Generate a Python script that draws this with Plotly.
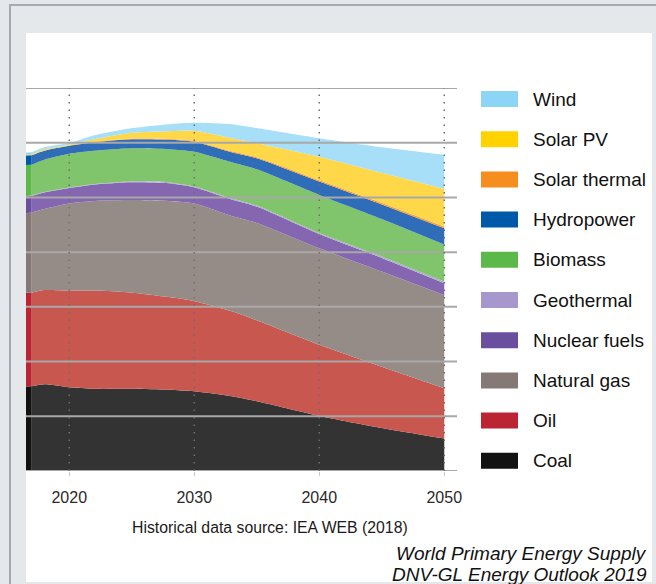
import plotly.graph_objects as go

# ---------------- data (EJ/yr) ----------------
years = [2016, 2017, 2018, 2020, 2022, 2025, 2028, 2030, 2033, 2035, 2040, 2045, 2050]
hist_end = 2017

coal = [153.8, 154.8, 158.4, 152.9, 150.2, 150.2, 148.4, 145.6, 136.4, 127.3, 100.7, 78.8, 59.5]
oil = [171.3, 171.2, 172.2, 176.8, 179.5, 175.8, 169.4, 164.8, 155.7, 148.3, 130.1, 111.7, 91.6]
natural_gas = [144.7, 146.5, 148.3, 159.3, 163.9, 169.4, 175.8, 178.6, 174.0, 177.7, 176.2, 174.0, 170.3]
nuclear = [31.0, 30.2, 30.2, 28.3, 30.1, 32.4, 32.4, 29.6, 30.1, 30.0, 26.0, 24.9, 21.9]
geothermal = [1.0, 1.0, 1.0, 1.0, 1.0, 1.5, 1.5, 1.5, 2.0, 2.0, 2.0, 2.5, 2.5]
biomass = [56.8, 55.8, 58.6, 61.4, 60.5, 60.4, 60.4, 63.2, 65.9, 66.0, 69.6, 68.7, 68.1]
hydropower = [17.4, 17.4, 16.5, 14.6, 15.5, 16.5, 17.4, 18.3, 18.3, 20.1, 24.3, 26.6, 29.7]
solar_thermal = [0.5, 0.5, 0.6, 0.7, 0.9, 1.2, 1.5, 1.6, 1.8, 2.0, 2.3, 2.6, 3.0]
solar_pv = [1.0, 1.4, 2.1, 1.5, 4.6, 10.7, 14.1, 18.6, 23.9, 25.5, 43.0, 55.1, 69.0]
wind = [3.1, 3.6, 3.7, 2.8, 7.4, 8.3, 12.8, 14.6, 25.6, 27.8, 33.9, 46.7, 62.2]

series_names = ["Coal", "Oil", "Natural gas", "Nuclear fuels", "Geothermal",
                "Biomass", "Hydropower", "Solar thermal", "Solar PV", "Wind"]
series_values = [coal, oil, natural_gas, nuclear, geothermal,
                 biomass, hydropower, solar_thermal, solar_pv, wind]
hist_colors = ["#121212", "#bb2533", "#857975", "#6a4f9f", "#a697cc",
               "#5bb849", "#0058a8", "#f68e1f", "#ffd200", "#8dd5f4"]
proj_colors = ["#333333", "#c8574f", "#968c87", "#8467b0", "#b3a7d6",
               "#80c46c", "#2f6db8", "#f79a3a", "#ffd84a", "#a6dff7"]

x_ticks = [2020, 2030, 2040, 2050]
y_grid = [0, 100, 200, 300, 400, 500, 600, 700]
source_note = "Historical data source: IEA WEB (2018)"
caption_lines = ["World Primary Energy Supply", "DNV-GL Energy Outlook 2019"]

# ---------------- layout geometry ----------------
W, H = 656, 584
L, R, T, B = 26, 210, 88, 113
PW, PH = W - L - R, H - T - B


def px(xp):
    return (xp - L) / PW


def py(yp):
    return (H - B - yp) / PH


FONT = "Liberation Sans, Arial, sans-serif"

fig = go.Figure()
ih = years.index(hist_end)

for name, vals, hc in zip(series_names, series_values, hist_colors):
    fig.add_trace(go.Scatter(
        x=years[:ih + 1], y=vals[:ih + 1], name=name, stackgroup="hist",
        mode="lines", line=dict(width=0), fillcolor=hc,
        showlegend=False, hoverinfo="skip"))

for name, vals, pc in zip(series_names, series_values, proj_colors):
    fig.add_trace(go.Scatter(
        x=years[ih:], y=vals[ih:], name=name, stackgroup="proj",
        mode="lines", line=dict(width=0, shape="spline", smoothing=0.7),
        fillcolor=pc, showlegend=False, hoverinfo="skip"))

shapes = []
# white panel
shapes.append(dict(type="rect", xref="paper", yref="paper",
                   x0=px(26), x1=px(652), y0=py(582), y1=py(33),
                   fillcolor="white", line=dict(width=0), layer="below"))
# frame lines
shapes.append(dict(type="line", xref="paper", yref="paper",
                   x0=px(9), x1=px(656), y0=py(5), y1=py(5),
                   line=dict(color="#a3abb0", width=2), layer="below"))
shapes.append(dict(type="line", xref="paper", yref="paper",
                   x0=px(10), x1=px(10), y0=py(5), y1=py(584),
                   line=dict(color="#a3abb0", width=2), layer="below"))
# horizontal grid lines on top of areas
for v in y_grid:
    shapes.append(dict(type="line", xref="paper", yref="y",
                       x0=0, x1=px(457), y0=v, y1=v,
                       line=dict(color="#a8a8a8", width=2), layer="above"))
# vertical dotted lines
for xv in x_ticks:
    shapes.append(dict(type="line", xref="x", yref="y",
                       x0=xv, x1=xv, y0=0, y1=y_grid[-1],
                       line=dict(color="#6e6e6e", width=1.5, dash="1.5px,6px"),
                       layer="above"))

annotations = []
# custom legend (top: Wind ... bottom: Coal)
for i, (name, col) in enumerate(zip(series_names[::-1], hist_colors[::-1])):
    yc = 99 + 40.2 * i
    shapes.append(dict(type="rect", xref="paper", yref="paper",
                       x0=px(481), x1=px(518), y0=py(yc + 8), y1=py(yc - 8),
                       fillcolor=col, line=dict(width=0)))
    annotations.append(dict(xref="paper", yref="paper", x=px(531), y=py(yc),
                            xanchor="left", yanchor="middle", showarrow=False,
                            text=name, font=dict(family=FONT, size=19, color="#111111")))

annotations.append(dict(xref="paper", yref="paper", x=px(270), y=py(527),
                        xanchor="center", yanchor="middle", showarrow=False,
                        text=source_note, font=dict(family=FONT, size=15.8, color="#1a1a1a")))
for j, line in enumerate(caption_lines):
    annotations.append(dict(xref="paper", yref="paper", x=px(649), y=py(553 + 21 * j),
                            xanchor="right", yanchor="middle", showarrow=False,
                            text="<i>" + line + "</i>",
                            font=dict(family=FONT, size=19, color="#111111")))

fig.update_layout(
    width=W, height=H,
    margin=dict(l=L, r=R, t=T, b=B, pad=0),
    paper_bgcolor="#e4e8eb",
    plot_bgcolor="white",
    showlegend=False,
    shapes=shapes,
    annotations=annotations,
    xaxis=dict(range=[2016.54, 2050.14], tickvals=x_ticks, ticktext=[str(t) for t in x_ticks],
               ticks="outside", ticklen=4, tickcolor="#c8c8c8", tickwidth=1,
               ticklabelstandoff=8,
               tickfont=dict(family=FONT, size=16, color="#2a2a2a"),
               showgrid=False, zeroline=False, showline=False, fixedrange=True),
    yaxis=dict(range=[0, 700], visible=False, fixedrange=True),
)

fig.write_html("out.html", config={"displayModeBar": False},
               post_script="document.body.style.margin='0';document.body.style.overflow='hidden';")
